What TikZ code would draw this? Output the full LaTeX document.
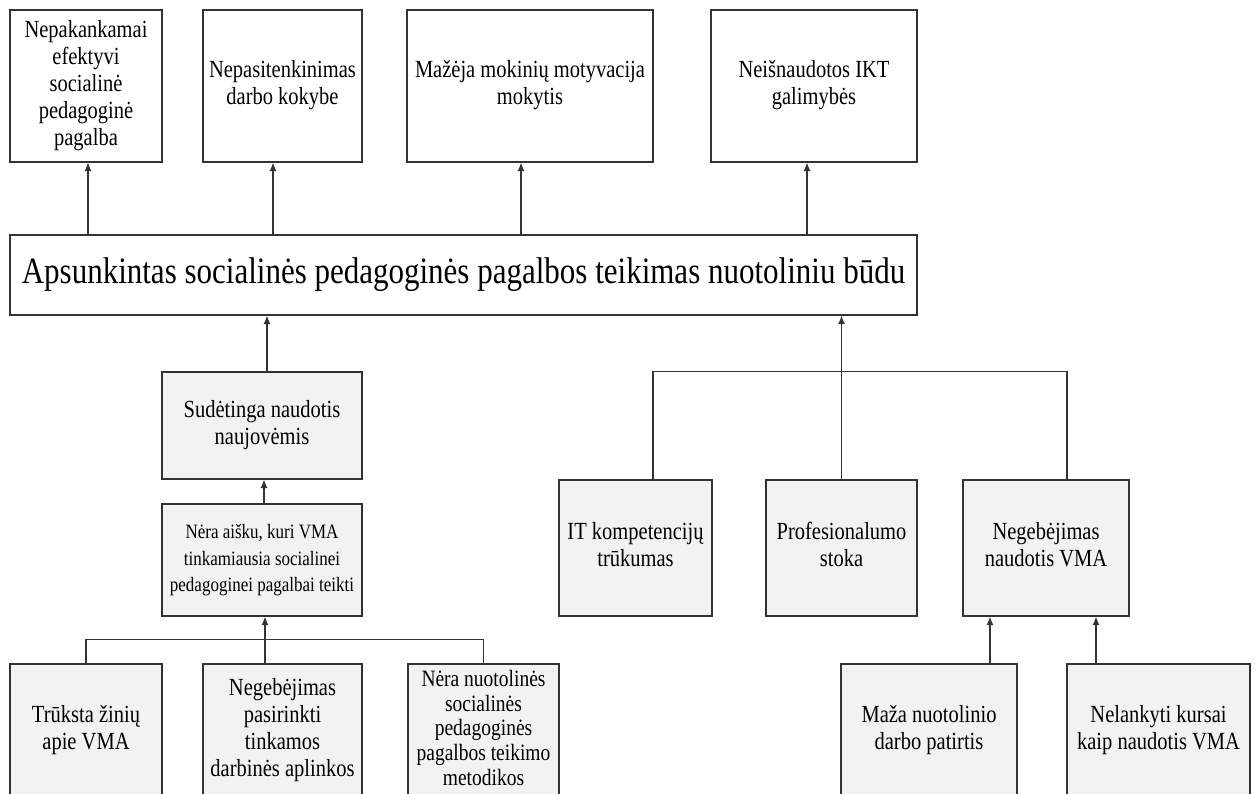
\documentclass[tikz,border=0pt]{standalone}
\usepackage{fontspec}
\setmainfont{Liberation Serif}
\usepackage{graphicx}
\usetikzlibrary{arrows.meta}
\definecolor{boxgray}{RGB}{242,242,242}
\colorlet{myline}{black!80}
\newcommand{\stretched}[1]{\scalebox{1}[1.2]{\begin{tabular}{@{}c@{}}#1\end{tabular}}}
\tikzset{
  >={Latex[length=8.5pt,width=7pt]},
  box/.style={draw=myline,line width=1.2pt,fill=white,inner sep=0,
    font=\fontsize{20.5}{22.5}\selectfont},
  box gray/.style={box,fill=boxgray},
  box small/.style={box gray,font=\fontsize{17}{22}\selectfont},
  box method/.style={box gray,font=\fontsize{19.5}{20.6}\selectfont},
  box main/.style={box,font=\fontsize{31}{34}\selectfont},
  connect/.style={line width=1.2pt,myline},
  connect arrow/.style={connect,->}
}

\begin{document}
\begin{tikzpicture}[x=1pt,y=-1pt]
    \useasboundingbox (0,0) rectangle (1257,794);
    \clip (0,0) rectangle (1257,794);

    % ------- consequences -------
    \node[box, minimum width=152, minimum height=152] (eff)   at (86,86)    {\stretched{Nepakankamai\\efektyvi\\socialinė\\pedagoginė\\pagalba}};
    \node[box, minimum width=159, minimum height=152] (qual)  at (282.5,86) {\stretched{Nepasitenkinimas\\darbo kokybe}};
    \node[box, minimum width=246, minimum height=152] (motiv) at (530,86)   {\stretched{Mažėja mokinių motyvacija\\mokytis}};
    \node[box, minimum width=206, minimum height=152] (ikt)   at (814,86)   {\stretched{Neišnaudotos IKT\\galimybės}};

    % ------- problem -------
    \node[box main, minimum width=907, minimum height=80] (main) at (463.5,275)
        {\stretched{Apsunkintas socialinės pedagoginės pagalbos teikimas nuotoliniu būdu}};

    % ------- causes, left -------
    \node[box gray,  minimum width=200, minimum height=107] (sud)   at (262,425.5) {\stretched{Sudėtinga naudotis\\naujovėmis}};
    \node[box small, minimum width=200, minimum height=112] (aisku) at (262,560)   {\stretched{Nėra aišku, kuri VMA\\tinkamiausia socialinei\\pedagoginei pagalbai teikti}};
    \node[box gray,   minimum width=152, minimum height=134] (zin)    at (86,731)    {\stretched{Trūksta žinių\\apie VMA}};
    \node[box gray,   minimum width=159, minimum height=134] (aplink) at (282.5,731) {\stretched{Negebėjimas\\pasirinkti\\tinkamos\\darbinės aplinkos}};
    \node[box method, minimum width=151, minimum height=134] (metod)  at (483.5,731) {\stretched{Nėra nuotolinės\\socialinės\\pedagoginės\\pagalbos teikimo\\metodikos}};

    % ------- causes, right -------
    \node[box gray, minimum width=153, minimum height=136] (itk)    at (635.5,548)  {\stretched{IT kompetencijų\\trūkumas}};
    \node[box gray, minimum width=151, minimum height=136] (prof)   at (841.5,548)  {\stretched{Profesionalumo\\stoka}};
    \node[box gray, minimum width=166, minimum height=136] (vma)    at (1046,548)   {\stretched{Negebėjimas\\naudotis VMA}};
    \node[box gray, minimum width=176, minimum height=134] (patirt) at (929,731)    {\stretched{Maža nuotolinio\\darbo patirtis}};
    \node[box gray, minimum width=183, minimum height=134] (kurs)   at (1158.5,731) {\stretched{Nelankyti kursai\\kaip naudotis VMA}};

    % ------- connectors -------
    \draw[connect arrow] ([xshift=2]eff.south |- main.north)     -- ([xshift=2]eff.south);
    \draw[connect arrow] ([xshift=-9.5]qual.south |- main.north) -- ([xshift=-9.5]qual.south);
    \draw[connect arrow] ([xshift=-9]motiv.south |- main.north)  -- ([xshift=-9]motiv.south);
    \draw[connect arrow] ([xshift=-7]ikt.south |- main.north)    -- ([xshift=-7]ikt.south);

    \draw[connect arrow] ([xshift=5]sud.north)   -- ([xshift=5]sud.north |- main.south);
    \draw[connect arrow] ([xshift=2]aisku.north) -- ([xshift=2]aisku.north |- sud.south);
    \draw[connect] (zin.north) -- ++(0,-24) -| (metod.north);
    \draw[connect arrow] ([xshift=-17.5]aplink.north) -- ([xshift=-17.5]aplink.north |- aisku.south);

    \draw[connect arrow] (prof.north) -- (prof.north |- main.south);
    \draw[connect] ([xshift=17.5]itk.north) -- ++(0,-108) -| ([xshift=21]vma.north);
    \draw[connect arrow] ([xshift=61]patirt.north)  -- ([xshift=61]patirt.north |- vma.south);
    \draw[connect arrow] ([xshift=-62.5]kurs.north) -- ([xshift=-62.5]kurs.north |- vma.south);
\end{tikzpicture}
\end{document}
